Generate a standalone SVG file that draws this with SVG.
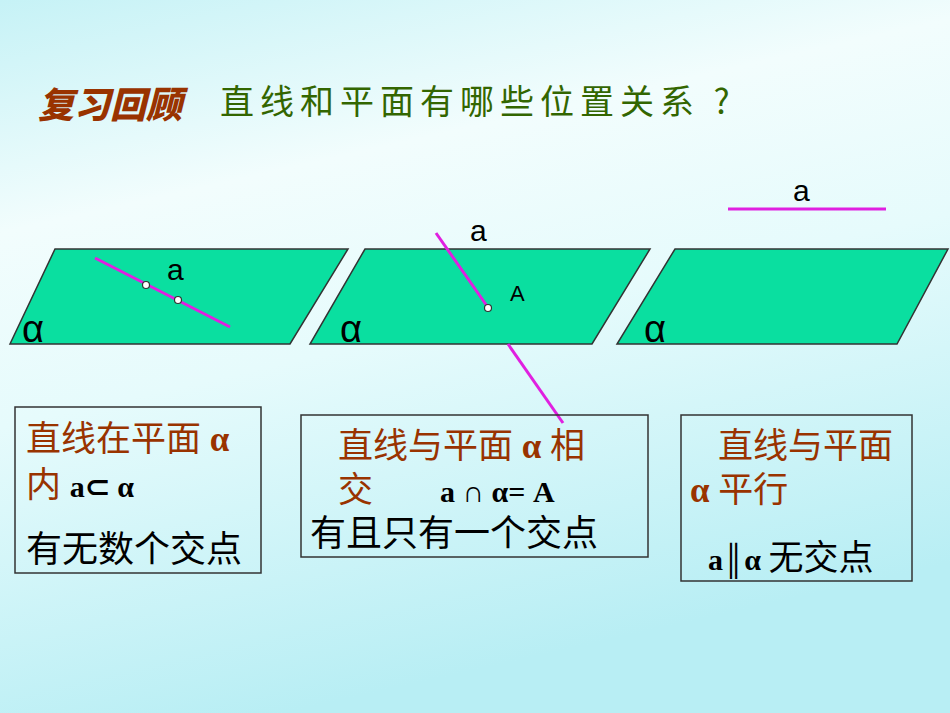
<svg xmlns="http://www.w3.org/2000/svg" width="950" height="713" viewBox="0 0 950 713">
<style>
.pl{fill:#0ADFA0;stroke:#333;stroke-width:1.5}
.ln{stroke:#E020E0;stroke-width:3;fill:none}
.pt{fill:#fff;stroke:#333;stroke-width:1.2}
.lbl{font-family:"Liberation Sans",sans-serif;fill:#000}
.bx{fill:none;stroke:#333;stroke-width:1.5}
.br{font-family:"Liberation Serif","Noto Sans CJK SC",serif;font-size:35px;fill:#993300}
.bk{font-family:"Liberation Serif","Noto Sans CJK SC",serif;font-size:36px;fill:#000}
.bb{font-family:"Liberation Serif",serif;font-size:30px;font-weight:bold;fill:#000}
</style>
<defs>
<linearGradient id="bg" x1="0" y1="0" x2="0.3" y2="1">
<stop offset="0" stop-color="#c6f2f6"/>
<stop offset="0.3" stop-color="#f2fdfd"/>
<stop offset="0.55" stop-color="#e6fbfc"/>
<stop offset="1" stop-color="#b8eef4"/>
</linearGradient>
</defs>
<rect width="950" height="713" fill="url(#bg)"/>
<g id="title">
<text x="38" y="118" font-family="Noto Sans CJK SC,sans-serif" font-size="36" font-weight="900" fill="#993300" font-style="italic">复习回顾</text>
<text x="220" y="114" font-family="Noto Sans CJK SC,sans-serif" font-size="34" letter-spacing="6" fill="#336600">直线和平面有哪些位置关系 ?</text>
</g>
<g id="plane1">
<polygon class="pl" points="55,249 348,249 290,344 10,344"/>
<text class="lbl" x="22" y="342" font-size="38">α</text>
</g>
<g id="plane2">
<polygon class="pl" points="365,249 650,249 592,344 310,344"/>
<text class="lbl" x="340" y="342" font-size="38">α</text>
</g>
<g id="plane3">
<polygon class="pl" points="675,249 948,249 897,344 617,344"/>
<text class="lbl" x="644" y="342" font-size="38">α</text>
</g>
<g id="connectors">
<line class="ln" x1="95" y1="258" x2="230" y2="327"/>
<circle class="pt" cx="146" cy="285" r="3.5"/>
<circle class="pt" cx="178" cy="300" r="3.5"/>
<line class="ln" x1="436" y1="233" x2="487" y2="306"/>
<line class="ln" x1="508" y1="344" x2="563" y2="423"/>
<circle class="pt" cx="488" cy="308" r="3.5"/>
<line class="ln" x1="728" y1="209" x2="886" y2="209"/>
</g>
<g id="labels">
<text class="lbl" x="167" y="280" font-size="30">a</text>
<text class="lbl" x="470" y="241" font-size="30">a</text>
<text class="lbl" x="510" y="301" font-size="22">A</text>
<text class="lbl" x="793" y="201" font-size="30">a</text>
</g>
<g id="box1">
<rect class="bx" x="15" y="407" width="246" height="166"/>
<text class="br" x="26" y="451">直线在平面 <tspan font-weight="bold">α</tspan></text>
<text class="br" x="26" y="497">内 <tspan class="bb" font-size="27">a⊂ α</tspan></text>
<text class="bk" x="26" y="562">有无数个交点</text>
</g>
<g id="box2">
<rect class="bx" x="301" y="415" width="347" height="142"/>
<text class="br" x="338" y="458">直线与平面 <tspan font-weight="bold">α</tspan> 相</text>
<text class="br" x="338" y="502">交</text>
<text class="bb" x="440" y="502">a ∩ α= A</text>
<text class="bk" x="310" y="546">有且只有一个交点</text>
</g>
<g id="box3">
<rect class="bx" x="681" y="415" width="231" height="166"/>
<text class="br" x="718" y="458">直线与平面</text>
<text class="br" x="690" y="502"><tspan font-weight="bold">α</tspan> 平行</text>
<text class="bb" x="708" y="570">a║α <tspan font-weight="normal" font-family="Noto Sans CJK SC,serif" font-size="35">无交点</tspan></text>
</g>
</svg>
